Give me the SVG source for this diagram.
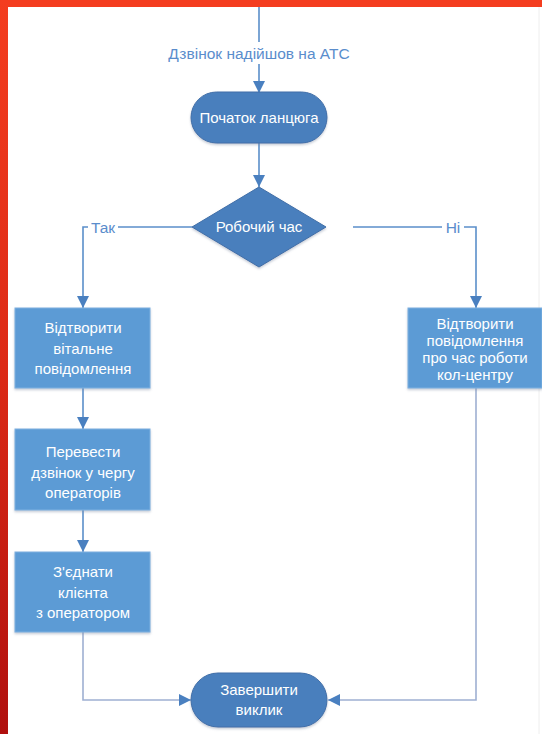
<svg xmlns="http://www.w3.org/2000/svg" width="542" height="734" viewBox="0 0 542 734">
  <defs>
    <linearGradient id="frameLeft" x1="0" y1="0" x2="0" y2="1">
      <stop offset="0" stop-color="#f43d1f"/>
      <stop offset="0.5" stop-color="#dc2a16"/>
      <stop offset="1" stop-color="#b0100e"/>
    </linearGradient>
    <marker id="arrow" viewBox="0 0 12 12" refX="12" refY="6" markerWidth="12" markerHeight="12" markerUnits="userSpaceOnUse" orient="auto">
      <path d="M0,0 L12,6 L0,12 z" fill="#4a80c0"/>
    </marker>
    <filter id="shadow" x="-10%" y="-10%" width="120%" height="130%">
      <feDropShadow dx="0" dy="1.5" stdDeviation="1.2" flood-color="#7a8aa0" flood-opacity="0.45"/>
    </filter>
  </defs>
  <style>
    .edge { fill: none; stroke: #5b8fca; stroke-width: 1.6; }
    .edge-soft { fill: none; stroke: #9eb0d2; stroke-width: 1.6; }
    .box { fill: #5b9bd5; stroke: #7fb0e0; stroke-width: 1; filter: url(#shadow); }
    .term { fill: #4a7fbd; stroke: #3f6ea8; stroke-width: 1; filter: url(#shadow); }
    .txt { font-family: "Liberation Sans", Arial, sans-serif; font-size: 15px; fill: #ffffff; text-anchor: middle; }
    .lbl { font-family: "Liberation Sans", Arial, sans-serif; font-size: 15.5px; fill: #5a8dcc; text-anchor: middle; }
  </style>

  <!-- page background and frame -->
  <rect x="0" y="0" width="542" height="734" fill="#ffffff"/>
  <rect x="0" y="0" width="542" height="7" fill="#f43d1f"/>
  <rect x="0" y="0" width="8" height="734" fill="url(#frameLeft)"/>
  <line x1="539" y1="7" x2="539" y2="734" stroke="#eeeeee" stroke-width="1"/>

  <!-- connectors -->
  <g id="connectors">
    <path class="edge" d="M259,7 V93" marker-end="url(#arrow)"/>
    <rect x="164" y="42" width="192" height="22" fill="#ffffff"/>
    <text class="lbl" x="259" y="59">Дзвінок надійшов на АТС</text>

    <path class="edge" d="M259,143 V187" marker-end="url(#arrow)"/>

    <path class="edge" d="M192,227 H83 V308" marker-end="url(#arrow)"/>
    <rect x="88" y="217" width="30" height="20" fill="#ffffff"/>
    <text class="lbl" x="103" y="233">Так</text>

    <path class="edge" d="M353,227 H476 V308" marker-end="url(#arrow)"/>
    <rect x="442" y="217" width="22" height="20" fill="#ffffff"/>
    <text class="lbl" x="453" y="233">Ні</text>

    <path class="edge" d="M83,388 V429" marker-end="url(#arrow)"/>
    <path class="edge" d="M83,510 V552" marker-end="url(#arrow)"/>

    <path class="edge-soft" d="M83,632 V700 H191" marker-end="url(#arrow)"/>
    <path class="edge-soft" d="M476,388 V700 H328" marker-end="url(#arrow)"/>
  </g>

  <g id="start">
    <rect class="term" x="191" y="92" width="136" height="51" rx="25.5"/>
    <text class="txt" x="259" y="123">Початок ланцюга</text>
  </g>

  <g id="decision">
    <path class="term" d="M259,187 L326,227 L259,267 L192,227 z"/>
    <text class="txt" x="259" y="232">Робочий час</text>
  </g>

  <g id="greeting">
    <rect class="box" x="15" y="308" width="135" height="80"/>
    <text class="txt" x="83" y="333">Відтворити</text>
    <text class="txt" x="83" y="354">вітальне</text>
    <text class="txt" x="83" y="374">повідомлення</text>
  </g>

  <g id="queue">
    <rect class="box" x="15" y="429" width="135" height="81"/>
    <text class="txt" x="83" y="457">Перевести</text>
    <text class="txt" x="83" y="478">дзвінок у чергу</text>
    <text class="txt" x="83" y="498">операторів</text>
  </g>

  <g id="connect">
    <rect class="box" x="15" y="552" width="135" height="80"/>
    <text class="txt" x="83" y="577">З'єднати</text>
    <text class="txt" x="83" y="598">клієнта</text>
    <text class="txt" x="83" y="618">з оператором</text>
  </g>

  <g id="hours">
    <rect class="box" x="408" y="308" width="134" height="80"/>
    <text class="txt" x="475" y="329">Відтворити</text>
    <text class="txt" x="475" y="346">повідомлення</text>
    <text class="txt" x="475" y="363">про час роботи</text>
    <text class="txt" x="475" y="380">кол-центру</text>
  </g>

  <g id="end">
    <rect class="term" x="191" y="673" width="136" height="54" rx="27"/>
    <text class="txt" x="259" y="695">Завершити</text>
    <text class="txt" x="259" y="715">виклик</text>
  </g>
</svg>
